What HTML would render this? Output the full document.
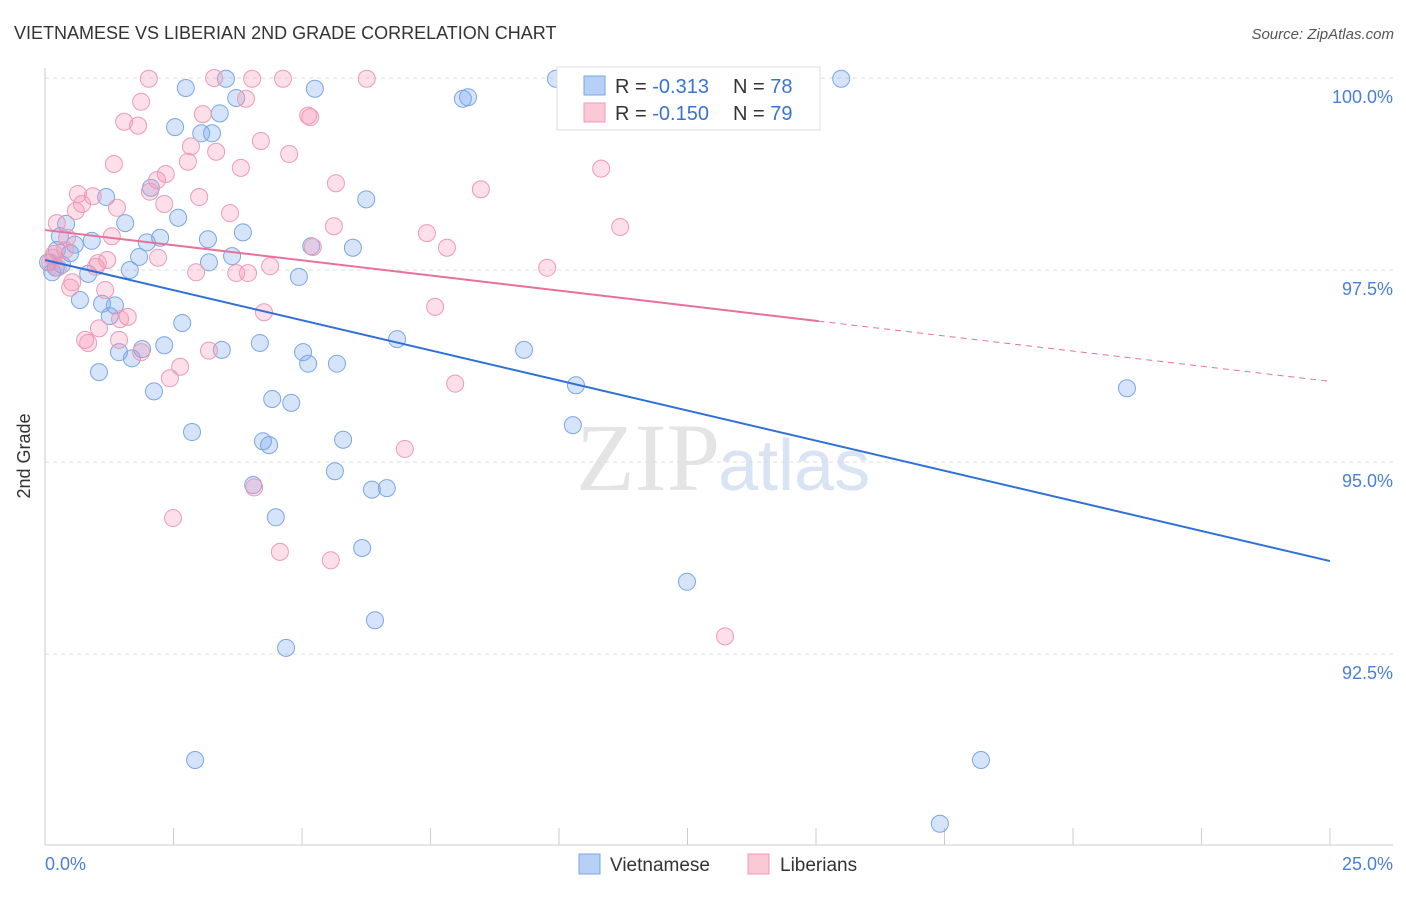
<!DOCTYPE html>
<html><head><meta charset="utf-8"><style>
body{margin:0;background:#fff;font-family:"Liberation Sans",sans-serif}
</style></head><body>
<svg id="chart" width="1406" height="892" xmlns="http://www.w3.org/2000/svg">
<text x="14" y="39" font-size="18" fill="#333">VIETNAMESE VS LIBERIAN 2ND GRADE CORRELATION CHART</text>
<text x="1394" y="39" font-size="15" fill="#555" font-style="italic" text-anchor="end">Source: ZipAtlas.com</text>
<text x="720" y="490" font-size="96" fill="#e4e4e4" text-anchor="end" font-family="Liberation Serif">ZIP</text>
<text x="718" y="490" font-size="72" fill="#d8e3f3">atlas</text>
<g id="grid"></g>
<line x1="45" y1="68" x2="45" y2="845" stroke="#ccc"/>
<line x1="45" y1="845" x2="1393" y2="845" stroke="#ccc"/>
<text x="30" y="456" font-size="18" fill="#333" transform="rotate(-90 30 456)" text-anchor="middle">2nd Grade</text>
<text x="45" y="870" font-size="18" fill="#4a7fd4">0.0%</text>
<text x="1393" y="870" font-size="18" fill="#4a7fd4" text-anchor="end">25.0%</text>
<g id="points"></g>
<g id="trends"></g>
<g>
<rect x="557" y="67" width="263" height="63" fill="#fff" stroke="#ddd"/>
<rect x="584" y="76" width="21" height="19" fill="#b7d0f5" stroke="#7aa6e6"/>
<rect x="584" y="103" width="21" height="19" fill="#fbc8d6" stroke="#f09ab4"/>
<text x="615" y="93" font-size="20" fill="#333">R = <tspan fill="#3a73cf">-0.313</tspan></text>
<text x="733" y="93" font-size="20" fill="#333">N = <tspan fill="#3a73cf">78</tspan></text>
<text x="615" y="120" font-size="20" fill="#333">R = <tspan fill="#3a73cf">-0.150</tspan></text>
<text x="733" y="120" font-size="20" fill="#333">N = <tspan fill="#3a73cf">79</tspan></text>
</g>
<g><rect x="579" y="854" width="21" height="20" fill="#b7d0f5" stroke="#7aa6e6"/><text x="610" y="871" font-size="19" fill="#333">Vietnamese</text></g>
<g><rect x="748" y="854" width="21" height="20" fill="#fbc8d6" stroke="#f09ab4"/><text x="780" y="871" font-size="19" fill="#333">Liberians</text></g>
</svg>
<script>
const yTicks=[100,97.5,95,92.5];
const yTickLabels=["100.0%","97.5%","95.0%","92.5%"];
const xTicks=[0,2.5,5,7.5,10,12.5,15,17.5,20,22.5,25];
const blueX=[2.74,3.52,3.72,5.25,9.94,8.13,8.23,15.49,2.53,3.04,3.25,3.40,2.06,1.19,6.25,1.56,2.59,0.41,0.29,0.58,0.91,1.98,2.24,3.17,3.85,5.99,5.18,0.49,1.83,3.19,3.64,0.21,0.84,1.65,4.94,0.68,1.11,1.36,1.26,2.67,6.85,4.18,1.44,1.89,1.69,2.32,3.44,5.02,5.12,5.68,9.32,1.05,2.12,10.33,21.05,4.42,4.79,2.86,4.24,4.36,5.80,10.27,5.64,4.05,6.36,6.65,4.49,6.17,12.49,6.42,4.69,2.92,18.21,17.41,0.06,0.14,0.23,0.33];
const blueY=[99.87,99.99,99.74,99.86,99.99,99.73,99.75,99.99,99.36,99.28,99.28,99.54,98.57,98.45,98.42,98.11,98.18,98.10,97.94,97.83,97.88,97.86,97.92,97.90,97.99,97.79,97.81,97.72,97.67,97.60,97.68,97.53,97.45,97.50,97.41,97.11,97.06,97.04,96.90,96.81,96.60,96.55,96.43,96.47,96.35,96.52,96.46,96.43,96.28,96.28,96.46,96.17,95.92,96.00,95.96,95.82,95.77,95.39,95.27,95.22,95.29,95.48,94.88,94.70,94.64,94.66,94.28,93.88,93.44,92.94,92.58,91.12,91.12,90.29,97.60,97.47,97.76,97.57];
const pinkX=[2.02,4.03,4.63,6.26,3.29,3.91,1.87,1.54,1.81,3.07,5.12,5.16,4.20,2.84,4.75,3.33,1.34,2.78,10.82,3.81,2.35,2.18,5.66,8.48,0.64,0.93,2.04,3.00,0.72,0.60,1.40,2.32,3.60,0.23,0.43,1.30,5.62,7.43,11.19,7.82,5.21,0.18,0.39,1.21,1.03,0.99,2.20,4.38,9.77,2.94,3.72,3.95,0.53,1.17,0.49,7.59,4.26,1.61,1.46,1.05,0.78,0.84,1.44,1.87,3.19,2.63,2.43,7.98,7.00,4.07,2.49,4.57,5.56,13.23,0.16,0.10,0.25];
const pinkY=[99.99,99.99,99.99,99.99,100.0,99.73,99.69,99.43,99.38,99.53,99.51,99.49,99.18,99.11,99.01,99.04,98.88,98.91,98.82,98.83,98.75,98.67,98.63,98.55,98.49,98.46,98.52,98.45,98.36,98.27,98.31,98.36,98.24,98.11,97.92,97.94,98.07,97.98,98.06,97.79,97.80,97.71,97.76,97.63,97.59,97.54,97.66,97.55,97.53,97.47,97.46,97.46,97.34,97.24,97.27,97.02,96.95,96.89,96.86,96.74,96.59,96.55,96.59,96.43,96.45,96.24,96.09,96.02,95.17,94.67,94.27,93.83,93.72,92.73,97.66,97.60,97.53];
const blueTrend=[97.63,93.71];
const pinkTrend=[98.02,96.05];
const pinkSolidEnd=15.05;
const NS="http://www.w3.org/2000/svg";
const xs=v=>45+v*51.4;
const ys=v=>78+(100-v)*76.8;
function mk(tag,attrs,parent){const e=document.createElementNS(NS,tag);for(const k in attrs)e.setAttribute(k,attrs[k]);parent.appendChild(e);return e;}
const grid=document.getElementById('grid');
yTicks.forEach((t,i)=>{
  const l=mk('line',{x1:45,x2:1393,y1:ys(t),y2:ys(t),stroke:'#ddd','stroke-dasharray':'4,4'},grid);
  
  
  const tx=mk('text',{x:1393,y:ys(t)+25,'font-size':18,fill:'#4a7fd4','text-anchor':'end'},grid);
  tx.textContent=yTickLabels[i];
  
  
});
xTicks.forEach(t=>{
  const l=mk('line',{x1:xs(t),x2:xs(t),y1:828,y2:845,stroke:'#ccc'},grid);
  
  
});
const pts=document.getElementById('points');
function drawPts(X,Y,fill,stroke,name){
  X.forEach((x,i)=>{
    const c=mk('circle',{cx:xs(x),cy:ys(Y[i]),r:8.5,fill:fill,stroke:stroke,'stroke-width':1},pts);
    
    
  });
}
drawPts(blueX,blueY,'rgba(120,165,235,0.3)','#7aa6e6','vietnamese-point');
drawPts(pinkX,pinkY,'rgba(245,150,180,0.3)','#ef9ab5','liberian-point');
const tr=document.getElementById('trends');
const bl=mk('line',{x1:xs(0),y1:ys(blueTrend[0]),x2:xs(25),y2:ys(blueTrend[1]),stroke:'#2f6fd8','stroke-width':2},tr);


const pm=pinkTrend[0]+(pinkTrend[1]-pinkTrend[0])*pinkSolidEnd/25;
const pl=mk('line',{x1:xs(0),y1:ys(pinkTrend[0]),x2:xs(pinkSolidEnd),y2:ys(pm),stroke:'#e8709a','stroke-width':2},tr);


const pd=mk('line',{x1:xs(pinkSolidEnd),y1:ys(pm),x2:xs(25),y2:ys(pinkTrend[1]),stroke:'#e8709a','stroke-width':1,'stroke-dasharray':'6,5'},tr);


</script>
</body></html>
